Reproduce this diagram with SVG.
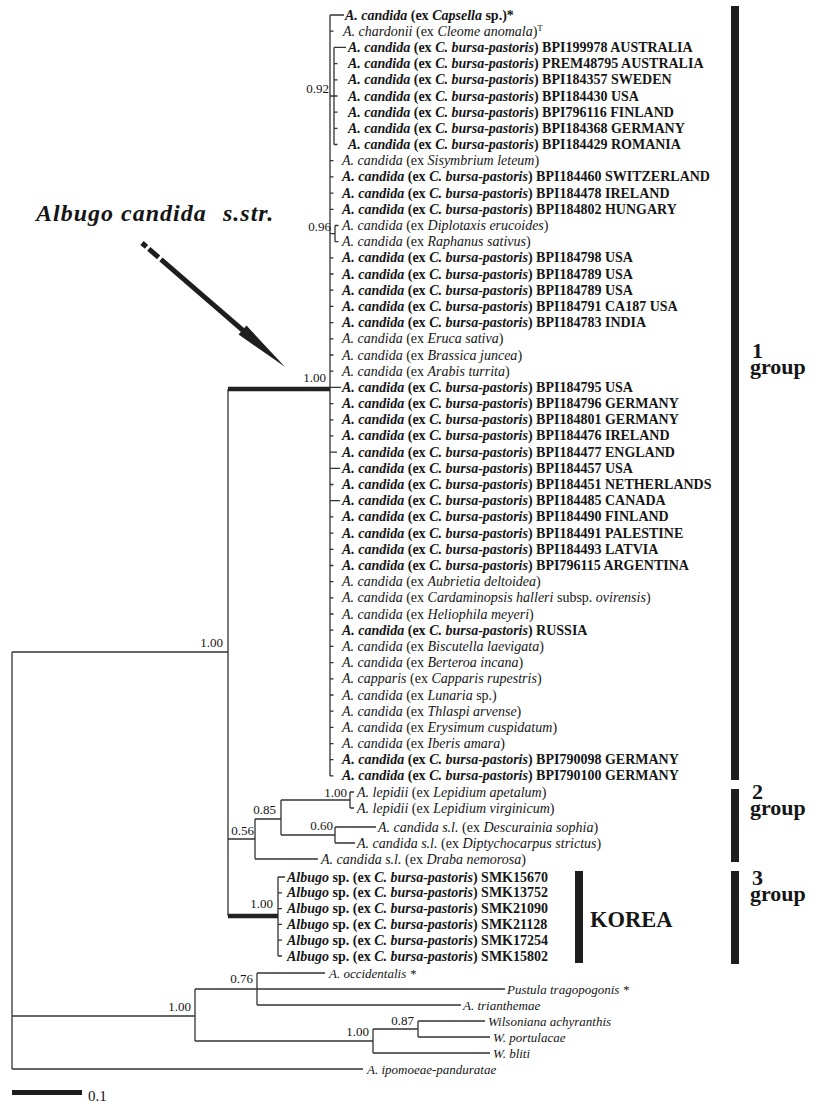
<svg xmlns="http://www.w3.org/2000/svg" width="815" height="1106" viewBox="0 0 815 1106">
<style>
text { font-family: "Liberation Serif", "Times New Roman", serif; fill: #151515; }
.t { font-size: 14px; }
.b { font-weight: bold; }
.i { font-style: italic; }
.o { font-size: 13px; font-style: italic; }
.s { font-size: 13px; text-anchor: end; }
.ln { stroke: #333; stroke-width: 1.3; fill: none; }
.tk { stroke: #222; stroke-width: 4.5; fill: none; }
.bar { fill: #1e1e1e; }
.grp { font-size: 22px; font-weight: bold; }
.sup { font-size: 9px; }
</style>
<rect width="815" height="1106" fill="#fff"/>

<g id="connectors">
<path class="ln" d="M330,15 V775.9 M330,15 H344 M330,31.2 h3.5
M330,96 H334 M334,47.4 V144.5 M334,47.4 H346 M334,63.6 h3.5 M334,79.8 h3.5 M334,96 h3.5 M334,112.1 h3.5 M334,128.3 h3.5 M334,144.5 h3.5
M330,160.7 h3.5 M330,176.9 h3.5 M330,193.1 h3.5 M330,209.3 h3.5
M330,233.6 H335 M335,225.5 V241.7 M335,225.5 h3.5 M335,241.7 h3.5
M330,257.9 h3.5 M330,274 h3.5 M330,290.2 h3.5 M330,306.4 h3.5 M330,322.6 h3.5 M330,338.8 h3.5 M330,355 h3.5 M330,371.2 h3.5
M330,387.4 h11 M330,403.6 h3.5 M330,419.8 h3.5 M330,435.9 h3.5 M330,452.1 h7 M330,468.3 h10 M330,484.5 h3.5 M330,500.7 h10
M330,516.9 h3.5 M330,533.1 h3.5 M330,549.3 h3.5 M330,565.5 h3.5 M330,581.7 h3.5 M330,597.8 h3.5 M330,614 h3.5 M330,630.2 h3.5
M330,646.4 h3.5 M330,662.6 h3.5 M330,678.8 h3.5 M330,695 h3.5 M330,711.2 h3.5 M330,727.4 h3.5 M330,743.6 h3.5 M330,759.7 h3.5 M330,775.9 h3.5
M228,389 V916 M12,652 H228
M228,839 H255 M255,819 V859 M255,819 H281 M281,800 V835 M281,800 H350 M350,792 V808 M350,792 h4 M350,808 h4
M281,835 H335 M335,827 V843 M335,827 H376 M335,843 H355 M255,859 H318
M278,877 V956 M278,877 H285 M278,892.8 h4 M278,908.6 h4 M278,924.4 h4 M278,940.2 h4 M278,956 h4
M12,652 V1069 M12,1016 H195 M195,989 V1041 M195,989 H505 M257,973 V1005 M257,973 H325 M257,1005 H461
M195,1041 H373 M373,1029 V1053 M373,1029 H418 M418,1021 V1037 M418,1021 H485 M418,1037 H490 M373,1053 H490 M12,1069 H363"/>
<path class="tk" d="M228,389 H330 M228,916 H278"/>
</g>

<g id="support-values">
<text class="s" x="329" y="93">0.92</text>
<text class="s" x="331" y="231">0.96</text>
<text class="s" x="326" y="382">1.00</text>
<text class="s" x="223" y="647">1.00</text>
<text class="s" x="254" y="835">0.56</text>
<text class="s" x="276" y="814">0.85</text>
<text class="s" x="347" y="797">1.00</text>
<text class="s" x="333" y="830">0.60</text>
<text class="s" x="273" y="908">1.00</text>
<text class="s" x="191" y="1011">1.00</text>
<text class="s" x="253" y="983">0.76</text>
<text class="s" x="369" y="1036">1.00</text>
<text class="s" x="414" y="1025">0.87</text>
</g>

<g id="leaves-group1">
<g id="leaf1"><text class="t b" x="345" y="19.5"><tspan class="i">A. candida</tspan> (ex <tspan class="i">Capsella</tspan> sp.)*</text></g>
<g id="leaf2"><text class="t" x="343" y="35.7"><tspan class="i">A. chardonii</tspan> (ex <tspan class="i">Cleome anomala</tspan>)<tspan class="sup" dy="-5">T</tspan></text></g>
<g id="leaf3"><text class="t b" x="348" y="51.9"><tspan class="i">A. candida</tspan> (ex <tspan class="i">C. bursa-pastoris</tspan>) BPI199978 AUSTRALIA</text></g>
<g id="leaf4"><text class="t b" x="348" y="68.1"><tspan class="i">A. candida</tspan> (ex <tspan class="i">C. bursa-pastoris</tspan>) PREM48795 AUSTRALIA</text></g>
<g id="leaf5"><text class="t b" x="348" y="84.3"><tspan class="i">A. candida</tspan> (ex <tspan class="i">C. bursa-pastoris</tspan>) BPI184357 SWEDEN</text></g>
<g id="leaf6"><text class="t b" x="348" y="100.5"><tspan class="i">A. candida</tspan> (ex <tspan class="i">C. bursa-pastoris</tspan>) BPI184430 USA</text></g>
<g id="leaf7"><text class="t b" x="348" y="116.6"><tspan class="i">A. candida</tspan> (ex <tspan class="i">C. bursa-pastoris</tspan>) BPI796116 FINLAND</text></g>
<g id="leaf8"><text class="t b" x="348" y="132.8"><tspan class="i">A. candida</tspan> (ex <tspan class="i">C. bursa-pastoris</tspan>) BPI184368 GERMANY</text></g>
<g id="leaf9"><text class="t b" x="348" y="149"><tspan class="i">A. candida</tspan> (ex <tspan class="i">C. bursa-pastoris</tspan>) BPI184429 ROMANIA</text></g>
<g id="leaf10"><text class="t" x="342" y="165.2"><tspan class="i">A. candida</tspan> (ex <tspan class="i">Sisymbrium leteum</tspan>)</text></g>
<g id="leaf11"><text class="t b" x="342" y="181.4"><tspan class="i">A. candida</tspan> (ex <tspan class="i">C. bursa-pastoris</tspan>) BPI184460 SWITZERLAND</text></g>
<g id="leaf12"><text class="t b" x="342" y="197.6"><tspan class="i">A. candida</tspan> (ex <tspan class="i">C. bursa-pastoris</tspan>) BPI184478 IRELAND</text></g>
<g id="leaf13"><text class="t b" x="342" y="213.8"><tspan class="i">A. candida</tspan> (ex <tspan class="i">C. bursa-pastoris</tspan>) BPI184802 HUNGARY</text></g>
<g id="leaf14"><text class="t" x="342" y="230"><tspan class="i">A. candida</tspan> (ex <tspan class="i">Diplotaxis erucoides</tspan>)</text></g>
<g id="leaf15"><text class="t" x="342" y="246.2"><tspan class="i">A. candida</tspan> (ex <tspan class="i">Raphanus sativus</tspan>)</text></g>
<g id="leaf16"><text class="t b" x="342" y="262.4"><tspan class="i">A. candida</tspan> (ex <tspan class="i">C. bursa-pastoris</tspan>) BPI184798 USA</text></g>
<g id="leaf17"><text class="t b" x="342" y="278.5"><tspan class="i">A. candida</tspan> (ex <tspan class="i">C. bursa-pastoris</tspan>) BPI184789 USA</text></g>
<g id="leaf18"><text class="t b" x="342" y="294.7"><tspan class="i">A. candida</tspan> (ex <tspan class="i">C. bursa-pastoris</tspan>) BPI184789 USA</text></g>
<g id="leaf19"><text class="t b" x="342" y="310.9"><tspan class="i">A. candida</tspan> (ex <tspan class="i">C. bursa-pastoris</tspan>) BPI184791 CA187 USA</text></g>
<g id="leaf20"><text class="t b" x="342" y="327.1"><tspan class="i">A. candida</tspan> (ex <tspan class="i">C. bursa-pastoris</tspan>) BPI184783 INDIA</text></g>
<g id="leaf21"><text class="t" x="342" y="343.3"><tspan class="i">A. candida</tspan> (ex <tspan class="i">Eruca sativa</tspan>)</text></g>
<g id="leaf22"><text class="t" x="342" y="359.5"><tspan class="i">A. candida</tspan> (ex <tspan class="i">Brassica juncea</tspan>)</text></g>
<g id="leaf23"><text class="t" x="342" y="375.7"><tspan class="i">A. candida</tspan> (ex <tspan class="i">Arabis turrita</tspan>)</text></g>
<g id="leaf24"><text class="t b" x="342" y="391.9"><tspan class="i">A. candida</tspan> (ex <tspan class="i">C. bursa-pastoris</tspan>) BPI184795 USA</text></g>
<g id="leaf25"><text class="t b" x="342" y="408.1"><tspan class="i">A. candida</tspan> (ex <tspan class="i">C. bursa-pastoris</tspan>) BPI184796 GERMANY</text></g>
<g id="leaf26"><text class="t b" x="342" y="424.3"><tspan class="i">A. candida</tspan> (ex <tspan class="i">C. bursa-pastoris</tspan>) BPI184801 GERMANY</text></g>
<g id="leaf27"><text class="t b" x="342" y="440.4"><tspan class="i">A. candida</tspan> (ex <tspan class="i">C. bursa-pastoris</tspan>) BPI184476 IRELAND</text></g>
<g id="leaf28"><text class="t b" x="342" y="456.6"><tspan class="i">A. candida</tspan> (ex <tspan class="i">C. bursa-pastoris</tspan>) BPI184477 ENGLAND</text></g>
<g id="leaf29"><text class="t b" x="342" y="472.8"><tspan class="i">A. candida</tspan> (ex <tspan class="i">C. bursa-pastoris</tspan>) BPI184457 USA</text></g>
<g id="leaf30"><text class="t b" x="342" y="489"><tspan class="i">A. candida</tspan> (ex <tspan class="i">C. bursa-pastoris</tspan>) BPI184451 NETHERLANDS</text></g>
<g id="leaf31"><text class="t b" x="342" y="505.2"><tspan class="i">A. candida</tspan> (ex <tspan class="i">C. bursa-pastoris</tspan>) BPI184485 CANADA</text></g>
<g id="leaf32"><text class="t b" x="342" y="521.4"><tspan class="i">A. candida</tspan> (ex <tspan class="i">C. bursa-pastoris</tspan>) BPI184490 FINLAND</text></g>
<g id="leaf33"><text class="t b" x="342" y="537.6"><tspan class="i">A. candida</tspan> (ex <tspan class="i">C. bursa-pastoris</tspan>) BPI184491 PALESTINE</text></g>
<g id="leaf34"><text class="t b" x="342" y="553.8"><tspan class="i">A. candida</tspan> (ex <tspan class="i">C. bursa-pastoris</tspan>) BPI184493 LATVIA</text></g>
<g id="leaf35"><text class="t b" x="342" y="570"><tspan class="i">A. candida</tspan> (ex <tspan class="i">C. bursa-pastoris</tspan>) BPI796115 ARGENTINA</text></g>
<g id="leaf36"><text class="t" x="342" y="586.2"><tspan class="i">A. candida</tspan> (ex <tspan class="i">Aubrietia deltoidea</tspan>)</text></g>
<g id="leaf37"><text class="t" x="342" y="602.3"><tspan class="i">A. candida</tspan> (ex <tspan class="i">Cardaminopsis halleri</tspan> subsp. <tspan class="i">ovirensis</tspan>)</text></g>
<g id="leaf38"><text class="t" x="342" y="618.5"><tspan class="i">A. candida</tspan> (ex <tspan class="i">Heliophila meyeri</tspan>)</text></g>
<g id="leaf39"><text class="t b" x="342" y="634.7"><tspan class="i">A. candida</tspan> (ex <tspan class="i">C. bursa-pastoris</tspan>) RUSSIA</text></g>
<g id="leaf40"><text class="t" x="342" y="650.9"><tspan class="i">A. candida</tspan> (ex <tspan class="i">Biscutella laevigata</tspan>)</text></g>
<g id="leaf41"><text class="t" x="342" y="667.1"><tspan class="i">A. candida</tspan> (ex <tspan class="i">Berteroa incana</tspan>)</text></g>
<g id="leaf42"><text class="t" x="342" y="683.3"><tspan class="i">A. capparis</tspan> (ex <tspan class="i">Capparis rupestris</tspan>)</text></g>
<g id="leaf43"><text class="t" x="342" y="699.5"><tspan class="i">A. candida</tspan> (ex <tspan class="i">Lunaria</tspan> sp.)</text></g>
<g id="leaf44"><text class="t" x="342" y="715.7"><tspan class="i">A. candida</tspan> (ex <tspan class="i">Thlaspi arvense</tspan>)</text></g>
<g id="leaf45"><text class="t" x="342" y="731.9"><tspan class="i">A. candida</tspan> (ex <tspan class="i">Erysimum cuspidatum</tspan>)</text></g>
<g id="leaf46"><text class="t" x="342" y="748.1"><tspan class="i">A. candida</tspan> (ex <tspan class="i">Iberis amara</tspan>)</text></g>
<g id="leaf47"><text class="t b" x="342" y="764.2"><tspan class="i">A. candida</tspan> (ex <tspan class="i">C. bursa-pastoris</tspan>) BPI790098 GERMANY</text></g>
<g id="leaf48"><text class="t b" x="342" y="780.4"><tspan class="i">A. candida</tspan> (ex <tspan class="i">C. bursa-pastoris</tspan>) BPI790100 GERMANY</text></g>
</g>

<g id="leaves-group2">
<g id="leaf49"><text class="t" x="357" y="796.5"><tspan class="i">A. lepidii</tspan> (ex <tspan class="i">Lepidium apetalum</tspan>)</text></g>
<g id="leaf50"><text class="t" x="357" y="812.5"><tspan class="i">A. lepidii</tspan> (ex <tspan class="i">Lepidium virginicum</tspan>)</text></g>
<g id="leaf51"><text class="t" x="378" y="831.5"><tspan class="i">A. candida s.l.</tspan> (ex <tspan class="i">Descurainia sophia</tspan>)</text></g>
<g id="leaf52"><text class="t" x="357" y="847.5"><tspan class="i">A. candida s.l.</tspan> (ex <tspan class="i">Diptychocarpus strictus</tspan>)</text></g>
<g id="leaf53"><text class="t" x="321" y="863.5"><tspan class="i">A. candida s.l.</tspan> (ex <tspan class="i">Draba nemorosa</tspan>)</text></g>
</g>

<g id="leaves-korea">
<g id="leaf54"><text class="t b" x="287" y="881.5"><tspan class="i">Albugo</tspan> sp. (ex <tspan class="i">C. bursa-pastoris</tspan>) SMK15670</text></g>
<g id="leaf55"><text class="t b" x="287" y="897.3"><tspan class="i">Albugo</tspan> sp. (ex <tspan class="i">C. bursa-pastoris</tspan>) SMK13752</text></g>
<g id="leaf56"><text class="t b" x="287" y="913.1"><tspan class="i">Albugo</tspan> sp. (ex <tspan class="i">C. bursa-pastoris</tspan>) SMK21090</text></g>
<g id="leaf57"><text class="t b" x="287" y="928.9"><tspan class="i">Albugo</tspan> sp. (ex <tspan class="i">C. bursa-pastoris</tspan>) SMK21128</text></g>
<g id="leaf58"><text class="t b" x="287" y="944.7"><tspan class="i">Albugo</tspan> sp. (ex <tspan class="i">C. bursa-pastoris</tspan>) SMK17254</text></g>
<g id="leaf59"><text class="t b" x="287" y="960.5"><tspan class="i">Albugo</tspan> sp. (ex <tspan class="i">C. bursa-pastoris</tspan>) SMK15802</text></g>
</g>

<g id="leaves-outgroup">
<g id="leaf60"><text class="o" x="329" y="977.5">A. occidentalis *</text></g>
<g id="leaf61"><text class="o" x="507" y="993.5">Pustula tragopogonis *</text></g>
<g id="leaf62"><text class="o" x="463" y="1009.5">A. trianthemae</text></g>
<g id="leaf63"><text class="o" x="488" y="1025.5">Wilsoniana achyranthis</text></g>
<g id="leaf64"><text class="o" x="493" y="1041.5">W. portulacae</text></g>
<g id="leaf65"><text class="o" x="493" y="1057.5">W. bliti</text></g>
<g id="leaf66"><text class="o" x="367" y="1073.5">A. ipomoeae-panduratae</text></g>
</g>

<g id="group1">
<rect class="bar" x="731" y="6" width="8" height="774"/>
<text class="grp"><tspan x="752" y="358">1</tspan><tspan x="750" y="374">group</tspan></text>
</g>
<g id="group2">
<rect class="bar" x="731" y="789" width="8" height="73"/>
<text class="grp"><tspan x="752" y="799">2</tspan><tspan x="750" y="815">group</tspan></text>
</g>
<g id="group3">
<rect class="bar" x="731" y="871" width="8" height="93"/>
<text class="grp"><tspan x="752" y="885">3</tspan><tspan x="750" y="901">group</tspan></text>
</g>
<g id="korea">
<rect class="bar" x="575" y="871" width="8" height="92"/>
<text x="590" y="927" style="font-size:22.5px;font-weight:bold">KOREA</text>
</g>

<g id="annotation">
<text x="36" y="221" style="font-size:24px;font-weight:bold;font-style:italic;letter-spacing:1px">Albugo candida</text>
<text x="223" y="221" style="font-size:24px;font-weight:bold;font-style:italic;letter-spacing:1px">s.str.</text>
<g transform="translate(142,243) rotate(40.9)" fill="#1e1e1e">
<rect x="0" y="-2.5" width="6" height="5"/>
<rect x="9" y="-2.5" width="13" height="5"/>
<rect x="25" y="-2.5" width="112" height="5"/>
<polygon points="133,-6 189,0 133,6"/>
</g>
</g>

<g id="scale">
<rect x="12" y="1090" width="70" height="5" fill="#1e1e1e"/>
<text x="88" y="1101" style="font-size:15px">0.1</text>
</g>
</svg>
